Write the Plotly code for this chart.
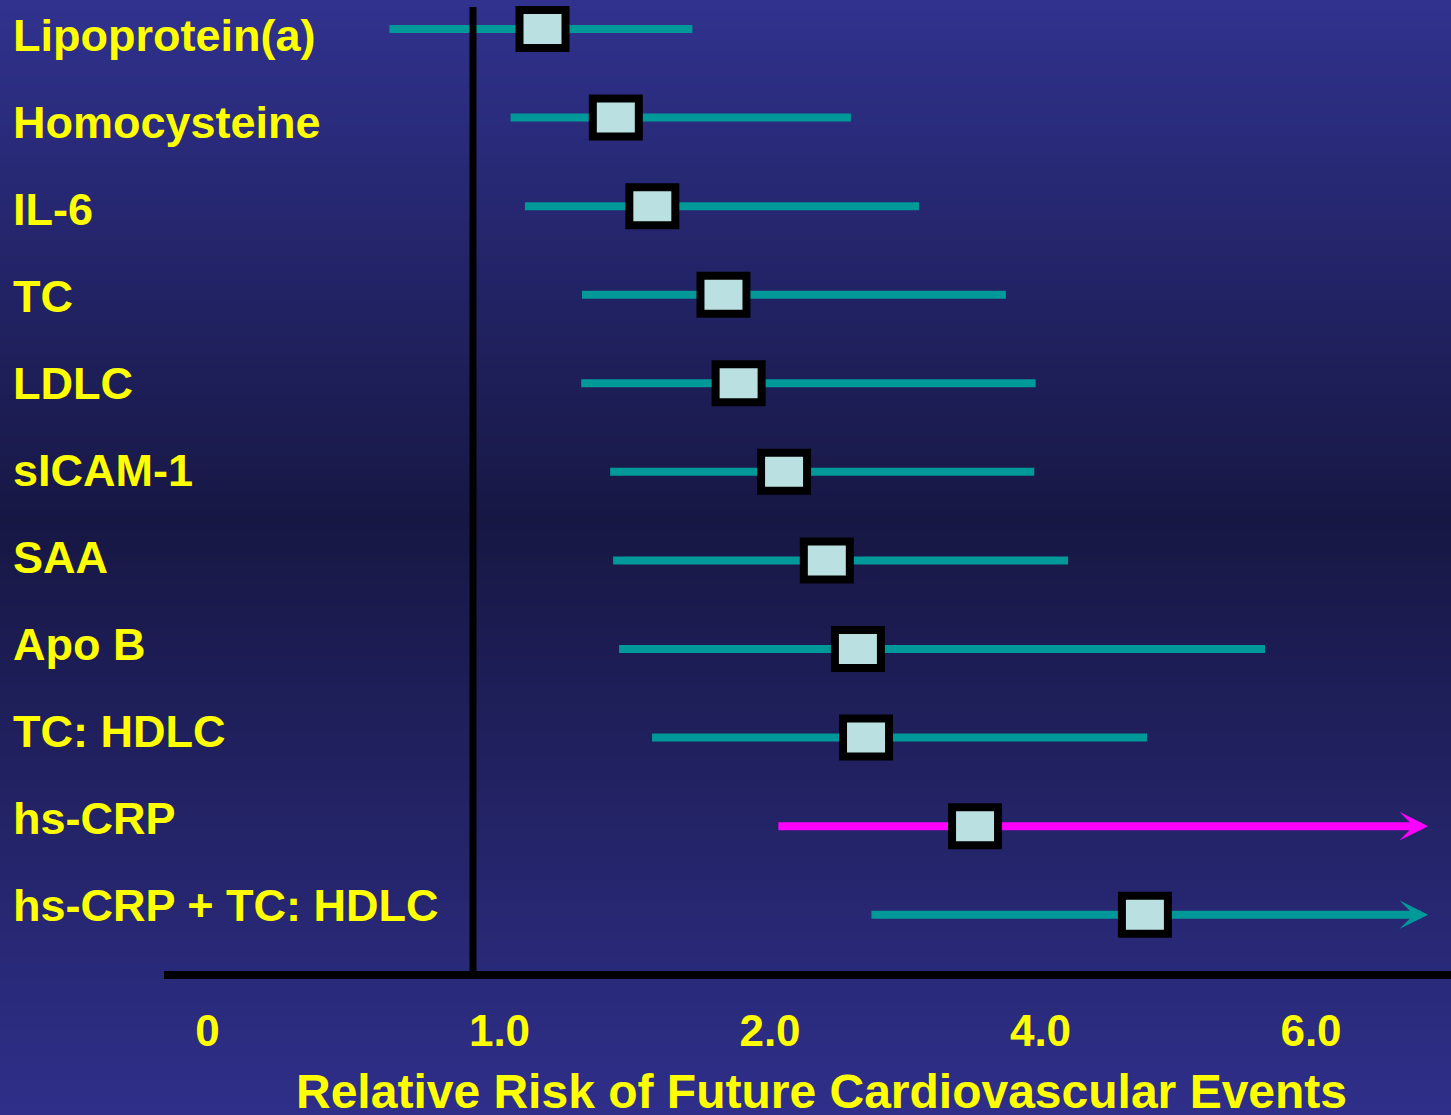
import plotly.graph_objects as go

# ---------------- data ----------------
risk_factors = ["Lipoprotein(a)", "Homocysteine", "IL-6", "TC", "LDLC", "sICAM-1",
                "SAA", "Apo B", "TC: HDLC", "hs-CRP", "hs-CRP + TC: HDLC"]
# positions on the chart's relative-risk scale (one unit = one tick step)
rr_point = [1.159, 1.430, 1.565, 1.828, 1.884, 2.052, 2.210, 2.325, 2.355, 2.758, 3.386]
rr_low = [0.593, 1.041, 1.094, 1.305, 1.302, 1.409, 1.420, 1.442, 1.564, 2.031, 2.375]
rr_high = [1.713, 2.299, 2.551, 2.872, 2.982, 2.977, 3.102, 3.830, 3.394, 4.433, 4.433]
open_ended = [False, False, False, False, False, False, False, False, False, True, True]
tick_positions = [-0.08, 1, 2, 3, 4]
tick_labels = ["0", "1.0", "2.0", "4.0", "6.0"]
reference_rr = 0.902
highlight = "hs-CRP"
x_title = "Relative Risk of Future Cardiovascular Events"

# ---------------- styling ----------------
W, H = 1451, 1115
ML, MB = 164, 144
PW, PH = W - ML, H - MB
YELLOW = "#ffff00"
TEAL = "#009999"
MAGENTA = "#ff00ff"
BOX_FILL = "#bae0e1"
FONT = "Liberation Sans, Arial, sans-serif"

fig = go.Figure()

# background vertical gradient (bands)
def grad(py):
    top, mid, bot = (48, 50, 142), (23, 23, 68), (47, 47, 138)
    if py <= 520:
        t = py / 520
        c = [a + (b - a) * t for a, b in zip(top, mid)]
    else:
        t = (py - 520) / (H - 520)
        c = [a + (b - a) * t for a, b in zip(mid, bot)]
    return "rgb(%d,%d,%d)" % tuple(round(v) for v in c)

shapes = []
step = 5
for py in range(0, H, step):
    shapes.append(dict(
        type="rect", xref="paper", yref="paper", layer="below",
        x0=-ML / PW - 0.01, x1=1.01,
        y0=(PH - (py + step + 1)) / PH, y1=(PH - py) / PH,
        fillcolor=grad(py + step / 2), line=dict(width=0)))

# reference line at RR = 1
shapes.append(dict(type="line", xref="x", yref="paper",
                   x0=reference_rr, x1=reference_rr, y0=0, y1=(PH - 7) / PH,
                   line=dict(color="black", width=7), layer="above"))

annotations = []
for i, name in enumerate(risk_factors):
    col = MAGENTA if name == highlight else TEAL
    hi = rr_high[i]
    x_end = hi - 0.037 if open_ended[i] else hi
    fig.add_trace(go.Scatter(
        x=[rr_low[i], x_end], y=[i, i], mode="lines",
        line=dict(color=col, width=8), hoverinfo="skip", showlegend=False))
    # point estimate box
    shapes.append(dict(
        type="rect", xref="x", yref="y", xsizemode="pixel", ysizemode="pixel",
        xanchor=rr_point[i], yanchor=i, x0=-23, x1=23, y0=-19, y1=19,
        fillcolor=BOX_FILL, line=dict(color="black", width=8), layer="above"))
    if open_ended[i]:
        annotations.append(dict(
            x=hi, y=i, ax=hi - 0.07, ay=i, xref="x", yref="y", axref="x", ayref="y",
            text="", showarrow=True, arrowhead=3, arrowsize=0.6, arrowwidth=8,
            arrowcolor=col, standoff=0))
    # row label
    annotations.append(dict(
        x=(11 - ML) / PW, xref="paper", xanchor="left",
        y=i, yref="y2", yanchor="middle", text=name, showarrow=False,
        font=dict(family=FONT, size=45, color=YELLOW, weight="bold")))

annotations.append(dict(
    x=(821.5 - ML) / PW, xref="paper", xanchor="center",
    y=(PH - 1091) / PH, yref="paper", yanchor="middle", text=x_title, showarrow=False,
    font=dict(family=FONT, size=48, color=YELLOW, weight="bold")))

fig.update_layout(
    width=W, height=H,
    margin=dict(l=ML, r=0, t=0, b=MB, pad=0),
    paper_bgcolor="#1e1e58", plot_bgcolor="rgba(0,0,0,0)",
    showlegend=False, shapes=shapes, annotations=annotations,
    xaxis=dict(range=[(164 - 229) / 270.5, (1451 - 229) / 270.5],
               tickvals=tick_positions, ticktext=tick_labels, ticks="",
               showgrid=False, zeroline=False, showline=True,
               linecolor="black", linewidth=8, ticklabelstandoff=14,
               tickfont=dict(family=FONT, size=44, color=YELLOW, weight="bold"),
               fixedrange=True),
    yaxis=dict(range=[-0.3274 + PH / 88.57, -0.3274], showgrid=False, zeroline=False,
               showticklabels=False, showline=False, ticks="", fixedrange=True),
    yaxis2=dict(range=[-0.4021 + PH / 87.05, -0.4021], overlaying="y", side="left",
                showgrid=False, zeroline=False, showticklabels=False, showline=False,
                ticks="", fixedrange=True),
)

fig.write_html("out.html", config={"displayModeBar": False})
